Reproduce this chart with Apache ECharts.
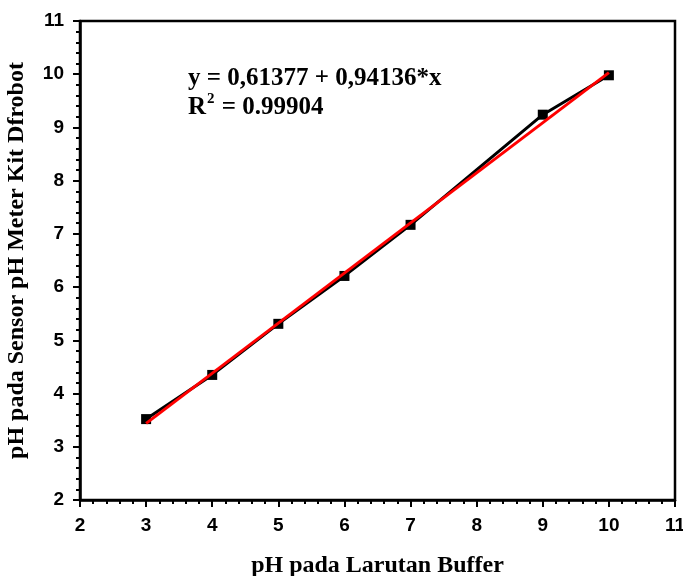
<!DOCTYPE html>
<html>
<head>
<meta charset="utf-8">
<script src="https://cdn.jsdelivr.net/npm/echarts@6/dist/echarts.min.js"></script>
<style>html,body{margin:0;padding:0;background:#fff}#c{width:683px;height:576px}</style>
</head>
<body>
<div id="c"></div>
<script>
const bufferPH = [3, 4, 5, 6, 7, 9, 10];
const sensorPH = [3.52, 4.35, 5.31, 6.21, 7.17, 9.24, 9.98];
const fitX = [3, 10];
const fitY = [3.44, 10.03];
const equationText = 'y = 0,61377 + 0,94136*x';
const r2Value = '0.99904';
const xTitle = 'pH pada Larutan Buffer';
const yTitle = 'pH pada Sensor pH Meter Kit Dfrobot';

const chart = echarts.init(document.getElementById('c'));
const tickLabel = {fontFamily: 'Liberation Sans, Arial', fontWeight: 'bold', fontSize: 19, color: '#000'};
const titleFont = {fontFamily: 'Liberation Serif, Times New Roman', fontWeight: 'bold', fontSize: 24, color: '#000'};
chart.setOption({
  animation: false,
  backgroundColor: '#fff',
  grid: {left: 80, right: 8, top: 21, bottom: 76, containLabel: false, outerBoundsMode: 'none',
         show: true, borderColor: '#000', borderWidth: 2.5, backgroundColor: 'transparent'},
  xAxis: {
    type: 'value', min: 2, max: 11, interval: 1,
    axisLine: {show: true, onZero: false, lineStyle: {color: '#000', width: 2.5}},
    axisTick: {show: true, inside: false, length: 7, lineStyle: {color: '#000', width: 2}},
    minorTick: {show: true, splitNumber: 5, length: 4, lineStyle: {color: '#000', width: 2}},
    splitLine: {show: false},
    axisLabel: Object.assign({margin: 16}, tickLabel),
    name: xTitle, nameLocation: 'middle', nameGap: 54,
    nameTextStyle: titleFont
  },
  yAxis: {
    type: 'value', min: 2, max: 11, interval: 1,
    axisLine: {show: true, onZero: false, lineStyle: {color: '#000', width: 2.5}},
    axisTick: {show: true, inside: false, length: 7, lineStyle: {color: '#000', width: 2}},
    minorTick: {show: true, splitNumber: 5, length: 4, lineStyle: {color: '#000', width: 2}},
    splitLine: {show: false},
    axisLabel: Object.assign({margin: 16}, tickLabel),
    name: yTitle, nameLocation: 'middle', nameGap: 51,
    nameTextStyle: titleFont
  },
  series: [
    {
      type: 'line',
      data: bufferPH.map((x, i) => [x, sensorPH[i]]),
      symbol: 'rect', symbolSize: 10,
      itemStyle: {color: '#000'},
      lineStyle: {color: '#000', width: 3},
      z: 2
    },
    {
      type: 'line',
      data: fitX.map((x, i) => [x, fitY[i]]),
      symbol: 'none',
      lineStyle: {color: '#ff0000', width: 3},
      z: 3
    }
  ],
  graphic: [
    {
      type: 'text', left: 188, top: 66,
      style: {text: equationText, font: 'bold 25px "Liberation Serif", "Times New Roman"', fill: '#000'}
    },
    {
      type: 'text', left: 188, top: 92,
      style: {
        text: '{a|R}{s|2}{a| = ' + r2Value + '}',
        rich: {
          a: {font: 'bold 25px "Liberation Serif", "Times New Roman"', fill: '#000', verticalAlign: 'bottom', lineHeight: 28},
          s: {font: 'bold 15px "Liberation Serif", "Times New Roman"', fill: '#000', verticalAlign: 'top', lineHeight: 28, padding: [0, 1, 12, 1]}
        }
      }
    }
  ]
});
</script>
</body>
</html>
